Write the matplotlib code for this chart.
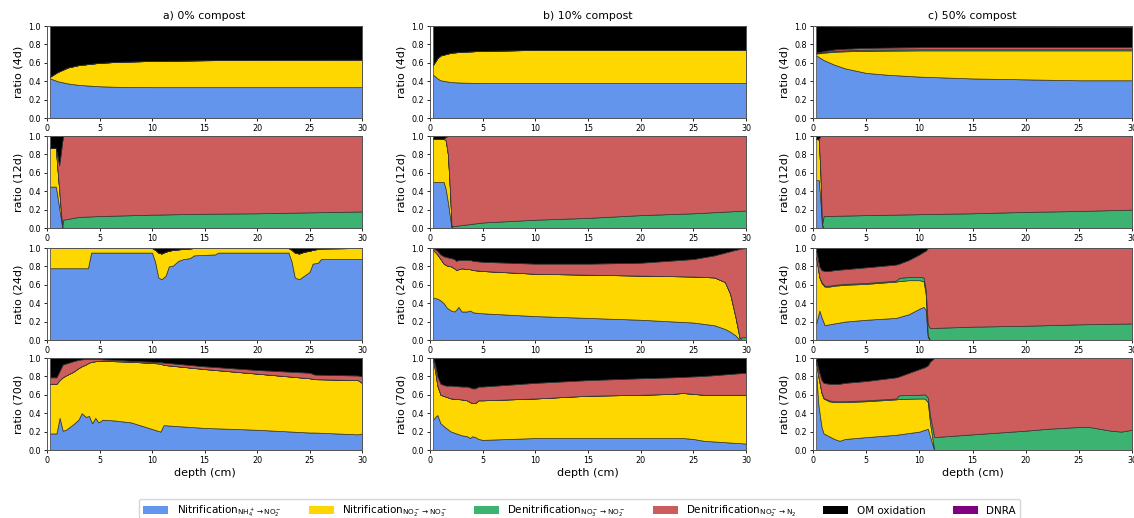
import matplotlib
matplotlib.use("Agg")
import matplotlib.pyplot as plt
from matplotlib.patches import Patch
import numpy as np

# process colours / legend labels (bottom -> top of the stack)
colors = ["#6495ED", "#FFD700", "#3CB371", "#CD5C5C", "#000000", "#800080"]
labels = [r"Nitrification$_{\mathrm{NH_4^+\rightarrow NO_2^-}}$",
          r"Nitrification$_{\mathrm{NO_2^-\rightarrow NO_3^-}}$",
          r"Denitrification$_{\mathrm{NO_3^-\rightarrow NO_2^-}}$",
          r"Denitrification$_{\mathrm{NO_2^-\rightarrow N_2}}$",
          "OM oxidation", "DNRA"]
titles = ["a) 0% compost", "b) 10% compost", "c) 50% compost"]
days = ["4d", "12d", "24d", "70d"]

# ---- a) 0% compost ----
depth_a4 = [0.3, 1, 2, 3, 5, 7, 10, 15, 20, 30]
nh4_a4 = [0.43, 0.40, 0.375, 0.36, 0.345, 0.338, 0.335, 0.335, 0.335, 0.335]
no2_a4 = [0.02, 0.10, 0.175, 0.215, 0.255, 0.274, 0.285, 0.293, 0.297, 0.30]
om_a4 = [0.55, 0.50, 0.45, 0.425, 0.40, 0.388, 0.38, 0.372, 0.368, 0.365]

depth_a12 = [0.3, 0.84, 1.0, 1.16, 1.3, 1.45, 1.55, 3, 5, 10, 15, 20, 25, 30]
nh4_a12 = [0.45, 0.45, 0.34, 0.22, 0.12, 0.01, 0, 0, 0, 0, 0, 0, 0, 0]
no2_a12 = [0.42, 0.42, 0.30, 0.20, 0.10, 0.01, 0, 0, 0, 0, 0, 0, 0, 0]
den1_a12 = [0, 0, 0, 0, 0, 0, 0.09, 0.12, 0.13, 0.145, 0.155, 0.16, 0.17, 0.18]
den2_a12 = [0, 0, 0.14, 0.26, 0.58, 0.92, 0.91, 0.88, 0.87, 0.855, 0.845, 0.84, 0.83, 0.82]
om_a12 = [0.13, 0.13, 0.22, 0.32, 0.20, 0.06, 0, 0, 0, 0, 0, 0, 0, 0]

depth_a24 = [0.3, 3.9, 4.2, 10.0, 10.3, 10.6, 10.9, 11.3, 11.6, 12.0, 12.5, 13.0, 13.6,
             14.0, 16.0, 16.3, 23.0, 23.3, 23.6, 24.0, 24.5, 25.0, 25.3, 25.8, 26.1, 30]
nh4_a24 = [0.78, 0.78, 0.95, 0.95, 0.85, 0.68, 0.66, 0.70, 0.80, 0.81, 0.86, 0.88, 0.89,
           0.92, 0.93, 0.95, 0.95, 0.85, 0.68, 0.66, 0.70, 0.74, 0.83, 0.84, 0.88, 0.88]
no2_a24 = [0.22, 0.22, 0.05, 0.05, 0.13, 0.27, 0.28, 0.26, 0.17, 0.17, 0.125, 0.11, 0.105,
           0.08, 0.07, 0.05, 0.05, 0.13, 0.27, 0.28, 0.26, 0.23, 0.15, 0.15, 0.115, 0.12]
om_a24 = [0, 0, 0, 0, 0.02, 0.05, 0.06, 0.04, 0.03, 0.02, 0.015, 0.01, 0.005,
          0, 0, 0, 0, 0.02, 0.05, 0.06, 0.04, 0.03, 0.02, 0.01, 0.005, 0]

depth_a70 = [0.3, 0.9, 1.2, 1.5, 1.8, 2.5, 3.0, 3.3, 3.7, 4.0, 4.3, 4.6, 4.9, 5.3, 6.5,
             8.0, 10.8, 11.1, 15, 20, 25, 25.5, 29.6, 30]
nh4_a70 = [0.18, 0.18, 0.35, 0.21, 0.22, 0.28, 0.33, 0.40, 0.36, 0.37, 0.29, 0.35, 0.30,
           0.33, 0.32, 0.30, 0.20, 0.27, 0.24, 0.22, 0.19, 0.19, 0.17, 0.18]
no2_a70 = [0.54, 0.54, 0.41, 0.58, 0.59, 0.57, 0.56, 0.51, 0.57, 0.58, 0.67, 0.615, 0.67,
           0.64, 0.645, 0.66, 0.74, 0.655, 0.64, 0.61, 0.59, 0.58, 0.59, 0.55]
den2_a70 = [0.07, 0.07, 0.10, 0.14, 0.13, 0.115, 0.09, 0.075, 0.06, 0.04, 0.03, 0.025,
            0.02, 0.015, 0.015, 0.01, 0.015, 0.025, 0.03, 0.04, 0.06, 0.05, 0.05, 0.07]
om_a70 = [0.21, 0.21, 0.14, 0.07, 0.06, 0.035, 0.02, 0.015, 0.01, 0.01, 0.01, 0.01, 0.01,
          0.015, 0.02, 0.03, 0.045, 0.05, 0.09, 0.13, 0.16, 0.18, 0.19, 0.20]

# ---- b) 10% compost ----
depth_b4 = [0.3, 0.7, 1, 2, 3, 5, 10, 20, 30]
nh4_b4 = [0.47, 0.43, 0.41, 0.39, 0.385, 0.38, 0.38, 0.38, 0.38]
no2_b4 = [0.11, 0.22, 0.27, 0.32, 0.335, 0.35, 0.36, 0.36, 0.36]
om_b4 = [0.42, 0.35, 0.32, 0.29, 0.28, 0.27, 0.26, 0.26, 0.26]

depth_b12 = [0.3, 1.3, 1.5, 1.7, 1.9, 2.05, 2.2, 5, 10, 15, 20, 25, 30]
nh4_b12 = [0.50, 0.50, 0.42, 0.28, 0.12, 0, 0, 0, 0, 0, 0, 0, 0]
no2_b12 = [0.47, 0.47, 0.53, 0.52, 0.28, 0.02, 0, 0, 0, 0, 0, 0, 0]
den1_b12 = [0, 0, 0, 0, 0, 0, 0.02, 0.06, 0.09, 0.11, 0.14, 0.16, 0.19]
den2_b12 = [0, 0, 0.04, 0.20, 0.60, 0.98, 0.98, 0.94, 0.91, 0.89, 0.86, 0.84, 0.81]
om_b12 = [0.03, 0.03, 0.01, 0, 0, 0, 0, 0, 0, 0, 0, 0, 0]

depth_b24 = [0.3, 0.7, 1.0, 1.3, 1.6, 2.0, 2.3, 2.5, 2.7, 3.0, 3.5, 3.8, 4.1, 5, 10, 15,
             20, 25, 27, 28, 28.5, 29, 29.4, 29.6, 30]
nh4_b24 = [0.46, 0.45, 0.43, 0.40, 0.35, 0.32, 0.31, 0.33, 0.36, 0.31, 0.31, 0.32, 0.30,
           0.29, 0.26, 0.24, 0.22, 0.19, 0.16, 0.12, 0.09, 0.05, 0.0, 0, 0]
no2_b24 = [0.52, 0.48, 0.45, 0.43, 0.46, 0.48, 0.47, 0.43, 0.41, 0.47, 0.46, 0.45, 0.46,
           0.46, 0.46, 0.47, 0.48, 0.50, 0.52, 0.51, 0.41, 0.20, 0.02, 0, 0]
den1_b24 = [0, 0, 0, 0, 0, 0, 0, 0, 0, 0, 0, 0, 0, 0, 0, 0, 0, 0, 0, 0, 0, 0, 0, 0.03, 0.03]
den2_b24 = [0.02, 0.04, 0.05, 0.08, 0.09, 0.09, 0.10, 0.10, 0.10, 0.09, 0.10, 0.10, 0.10,
            0.10, 0.11, 0.12, 0.14, 0.19, 0.24, 0.32, 0.465, 0.73, 0.97, 0.965, 0.97]
om_b24 = [0, 0.03, 0.07, 0.09, 0.10, 0.11, 0.12, 0.14, 0.13, 0.13, 0.13, 0.13, 0.14, 0.15,
          0.17, 0.17, 0.16, 0.12, 0.08, 0.05, 0.035, 0.02, 0.01, 0.005, 0]

depth_b70 = [0.3, 0.5, 0.7, 1.0, 1.5, 2, 2.5, 3, 3.5, 3.8, 4.0, 4.3, 4.6, 5, 10, 15, 20,
             23, 24, 25, 26, 30]
nh4_b70 = [0.33, 0.36, 0.38, 0.29, 0.24, 0.20, 0.18, 0.16, 0.15, 0.13, 0.15, 0.14, 0.12,
           0.11, 0.13, 0.13, 0.13, 0.13, 0.13, 0.12, 0.10, 0.07]
no2_b70 = [0.65, 0.49, 0.32, 0.31, 0.34, 0.36, 0.375, 0.39, 0.39, 0.39, 0.36, 0.37, 0.42,
           0.43, 0.43, 0.46, 0.47, 0.48, 0.49, 0.49, 0.50, 0.53]
den2_b70 = [0.02, 0.07, 0.10, 0.12, 0.12, 0.14, 0.14, 0.14, 0.15, 0.16, 0.16, 0.16, 0.15,
            0.15, 0.17, 0.17, 0.18, 0.18, 0.175, 0.19, 0.205, 0.24]
om_b70 = [0, 0.08, 0.20, 0.28, 0.30, 0.30, 0.305, 0.31, 0.31, 0.32, 0.33, 0.33, 0.31, 0.31,
          0.27, 0.24, 0.22, 0.21, 0.205, 0.20, 0.195, 0.16]

# ---- c) 50% compost ----
depth_c4 = [0.3, 1, 2, 3, 5, 7, 10, 15, 20, 25, 30]
nh4_c4 = [0.68, 0.63, 0.58, 0.54, 0.49, 0.47, 0.45, 0.43, 0.42, 0.41, 0.41]
no2_c4 = [0.02, 0.08, 0.14, 0.185, 0.24, 0.262, 0.285, 0.305, 0.315, 0.325, 0.325]
den1_c4 = [0.005, 0.008, 0.01, 0.01, 0.012, 0.012, 0.012, 0.012, 0.012, 0.012, 0.012]
den2_c4 = [0.005, 0.01, 0.015, 0.018, 0.02, 0.022, 0.023, 0.025, 0.025, 0.025, 0.025]
om_c4 = [0.29, 0.27, 0.252, 0.244, 0.234, 0.23, 0.225, 0.222, 0.221, 0.22, 0.22]
dnra_c4 = [0.0, 0.002, 0.003, 0.003, 0.004, 0.004, 0.005, 0.006, 0.007, 0.008, 0.008]

depth_c12 = [0.3, 0.55, 0.7, 0.85, 1.0, 5, 10, 15, 20, 25, 30]
nh4_c12 = [0.52, 0.52, 0.30, 0.02, 0, 0, 0, 0, 0, 0, 0]
no2_c12 = [0.45, 0.44, 0.30, 0.02, 0, 0, 0, 0, 0, 0, 0]
den1_c12 = [0, 0, 0, 0, 0.13, 0.14, 0.15, 0.16, 0.175, 0.185, 0.20]
den2_c12 = [0, 0.01, 0.40, 0.96, 0.87, 0.86, 0.85, 0.84, 0.825, 0.815, 0.80]
om_c12 = [0.03, 0.03, 0.0, 0, 0, 0, 0, 0, 0, 0, 0]

depth_c24 = [0.3, 0.6, 0.8, 1.1, 1.5, 2, 3, 5, 7.8, 8.1, 9, 10, 10.4, 10.6, 10.8, 11.0,
             15, 20, 25, 30]
nh4_c24 = [0.18, 0.32, 0.25, 0.16, 0.17, 0.18, 0.20, 0.22, 0.24, 0.25, 0.28, 0.34, 0.36,
           0.33, 0.03, 0, 0, 0, 0, 0]
no2_c24 = [0.72, 0.36, 0.37, 0.42, 0.41, 0.41, 0.40, 0.39, 0.395, 0.39, 0.37, 0.31, 0.28,
           0.17, 0.02, 0, 0, 0, 0, 0]
den1_c24 = [0, 0.005, 0.01, 0.01, 0.01, 0.01, 0.01, 0.01, 0.01, 0.035, 0.035, 0.035, 0.04,
            0.05, 0.12, 0.13, 0.145, 0.155, 0.17, 0.18]
den2_c24 = [0.07, 0.115, 0.13, 0.16, 0.16, 0.16, 0.16, 0.17, 0.175, 0.155, 0.185, 0.245,
            0.28, 0.42, 0.83, 0.87, 0.855, 0.845, 0.83, 0.82]
om_c24 = [0.03, 0.20, 0.24, 0.25, 0.25, 0.24, 0.23, 0.21, 0.18, 0.17, 0.13, 0.07, 0.04,
          0.03, 0, 0, 0, 0, 0, 0]

depth_c70 = [0.3, 0.5, 0.8, 1.0, 1.5, 2, 2.5, 3, 5, 7.8, 8.1, 10, 10.5, 10.8, 11.0, 11.4,
             15, 20, 22, 25, 26, 28, 29, 30]
nh4_c70 = [0.85, 0.50, 0.25, 0.18, 0.15, 0.12, 0.10, 0.12, 0.14, 0.165, 0.17, 0.20, 0.22,
           0.23, 0.15, 0, 0, 0, 0, 0, 0, 0, 0, 0]
no2_c70 = [0.10, 0.30, 0.37, 0.38, 0.38, 0.40, 0.42, 0.40, 0.39, 0.385, 0.385, 0.36, 0.34,
           0.29, 0.15, 0, 0, 0, 0, 0, 0, 0, 0, 0]
den1_c70 = [0.005, 0.005, 0.005, 0.005, 0.01, 0.01, 0.01, 0.01, 0.01, 0.01, 0.04, 0.04,
            0.045, 0.05, 0.08, 0.14, 0.17, 0.21, 0.23, 0.25, 0.25, 0.21, 0.20, 0.22]
den2_c70 = [0.025, 0.075, 0.135, 0.165, 0.18, 0.19, 0.19, 0.20, 0.21, 0.23, 0.205, 0.28,
            0.295, 0.35, 0.58, 0.86, 0.83, 0.79, 0.77, 0.75, 0.75, 0.79, 0.80, 0.78]
om_c70 = [0.02, 0.12, 0.24, 0.27, 0.28, 0.28, 0.28, 0.27, 0.25, 0.21, 0.20, 0.12, 0.10,
          0.08, 0.04, 0, 0, 0, 0, 0, 0, 0, 0, 0]

panels = [
    [(depth_a4, nh4_a4, no2_a4, None, None, om_a4, None),
     (depth_a12, nh4_a12, no2_a12, den1_a12, den2_a12, om_a12, None),
     (depth_a24, nh4_a24, no2_a24, None, None, om_a24, None),
     (depth_a70, nh4_a70, no2_a70, None, den2_a70, om_a70, None)],
    [(depth_b4, nh4_b4, no2_b4, None, None, om_b4, None),
     (depth_b12, nh4_b12, no2_b12, den1_b12, den2_b12, om_b12, None),
     (depth_b24, nh4_b24, no2_b24, den1_b24, den2_b24, om_b24, None),
     (depth_b70, nh4_b70, no2_b70, None, den2_b70, om_b70, None)],
    [(depth_c4, nh4_c4, no2_c4, den1_c4, den2_c4, om_c4, dnra_c4),
     (depth_c12, nh4_c12, no2_c12, den1_c12, den2_c12, om_c12, None),
     (depth_c24, nh4_c24, no2_c24, den1_c24, den2_c24, om_c24, None),
     (depth_c70, nh4_c70, no2_c70, den1_c70, den2_c70, om_c70, None)],
]

W, H = 1134, 518
fig = plt.figure(figsize=(W / 100, H / 100), dpi=100)

col_left = [47, 430, 813]
col_width = [315, 316, 319]
row_top = [26, 136, 248, 358]
row_h = 92

for j in range(3):
    for i in range(4):
        ax = fig.add_axes([col_left[j] / W, 1 - (row_top[i] + row_h) / H,
                           col_width[j] / W, row_h / H])
        depth, *series = panels[j][i]
        # processes that never show up in a panel are just empty layers
        layers = [s if s is not None else [0] * len(depth) for s in series]
        ax.stackplot(depth, layers, colors=colors, edgecolor="#333333", linewidth=0.5)
        ax.set_xlim(0, 30)
        ax.set_ylim(0, 1)
        ax.set_xticks(range(0, 31, 5))
        ax.set_yticks(np.arange(0, 1.01, 0.2))
        ax.yaxis.set_major_formatter(matplotlib.ticker.FormatStrFormatter("%.1f"))
        ax.tick_params(labelsize=5.8, length=2.5, width=0.6, pad=2)
        for sp in ax.spines.values():
            sp.set_linewidth(0.7)
            sp.set_color("#555555")
        ax.set_ylabel("ratio (%s)" % days[i], fontsize=8, labelpad=3)
        if i == 0:
            ax.set_title(titles[j], fontsize=7.8, pad=5)
        if i == 3:
            ax.set_xlabel("depth (cm)", fontsize=8, labelpad=2)

handles = [Patch(facecolor=c) for c in colors]
fig.legend(handles, labels, loc="upper center", bbox_to_anchor=(0.511, 0.046),
           ncol=6, fontsize=7.5, frameon=True, columnspacing=2.6, handlelength=2.4)

fig.savefig("out.png", dpi=100)
